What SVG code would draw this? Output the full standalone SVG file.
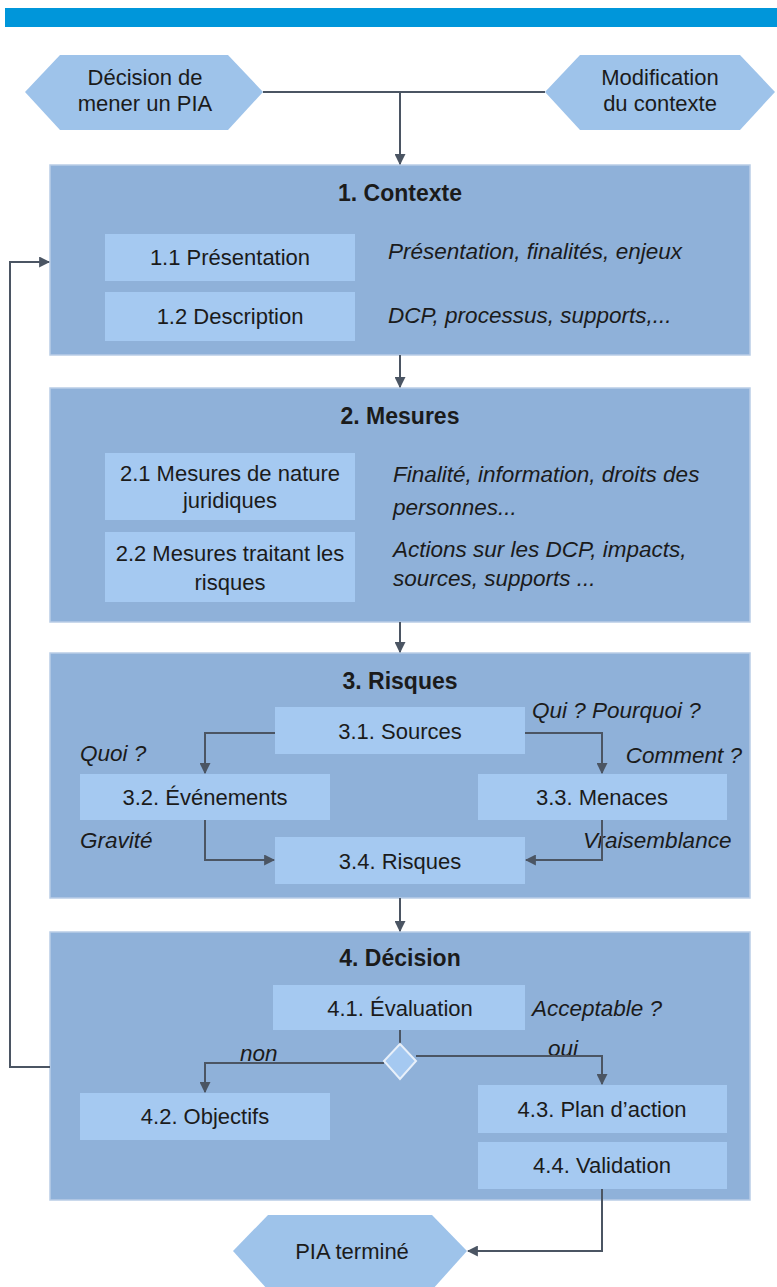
<svg xmlns="http://www.w3.org/2000/svg" width="777" height="1287" viewBox="0 0 777 1287">
<style>
text{font-family:"Liberation Sans",Arial,sans-serif;fill:#1b1b1b;font-size:22px}
.t{font-weight:bold;font-size:23px;text-anchor:middle}
.c{text-anchor:middle}
.i{font-style:italic;font-size:22.5px}
.outer{fill:#8fb1d9;stroke:#b9cde6;stroke-width:1.5}
.inner{fill:#a5c9f1}
.hex{fill:#9ec3ea}
.ln{fill:none;stroke:#4b5563;stroke-width:2}
</style>
<defs>
<marker id="ah" viewBox="0 0 10 10" refX="9" refY="5" markerWidth="11" markerHeight="11" orient="auto" markerUnits="userSpaceOnUse">
<path d="M0,0 L10,5 L0,10 z" fill="#4b5563"/>
</marker>
</defs>
<rect x="5" y="8" width="772" height="19" fill="#0096da"/>

<g id="start1">
<polygon class="hex" points="25,92 60,55 228,55 263,92 228,130 60,130"/>
<text class="c" x="145" y="85">Décision de</text>
<text class="c" x="145" y="111">mener un PIA</text>
</g>
<g id="start2">
<polygon class="hex" points="545,92 580,55 740,55 775,92 740,130 580,130"/>
<text class="c" x="660" y="85">Modification</text>
<text class="c" x="660" y="111">du contexte</text>
</g>

<g id="contexte">
<rect class="outer" x="50" y="165" width="700" height="190"/>
<text class="t" x="400" y="201">1. Contexte</text>
<rect class="inner" x="105" y="234" width="250" height="47"/>
<text class="c" x="230" y="265">1.1 Présentation</text>
<text class="i" x="388" y="259">Présentation, finalités, enjeux</text>
<rect class="inner" x="105" y="292" width="250" height="49"/>
<text class="c" x="230" y="324">1.2 Description</text>
<text class="i" x="388" y="323">DCP, processus, supports,...</text>
</g>

<g id="mesures">
<rect class="outer" x="50" y="388" width="700" height="234"/>
<text class="t" x="400" y="424">2. Mesures</text>
<rect class="inner" x="105" y="453" width="250" height="67"/>
<text class="c" x="230" y="481">2.1 Mesures de nature</text>
<text class="c" x="230" y="508">juridiques</text>
<text class="i" x="393" y="482">Finalité, information, droits des</text>
<text class="i" x="393" y="515">personnes...</text>
<rect class="inner" x="105" y="532" width="250" height="70"/>
<text class="c" x="230" y="561">2.2 Mesures traitant les</text>
<text class="c" x="230" y="590">risques</text>
<text class="i" x="393" y="557">Actions sur les DCP, impacts,</text>
<text class="i" x="393" y="586">sources, supports ...</text>
</g>

<g id="risques">
<rect class="outer" x="50" y="653" width="700" height="245"/>
<text class="t" x="400" y="689">3. Risques</text>
<rect class="inner" x="275" y="707" width="250" height="47"/>
<text class="c" x="400" y="739">3.1. Sources</text>
<rect class="inner" x="80" y="774" width="250" height="46"/>
<text class="c" x="205" y="805">3.2. Événements</text>
<rect class="inner" x="478" y="774" width="249" height="46"/>
<text class="c" x="602" y="805">3.3. Menaces</text>
<rect class="inner" x="275" y="837" width="250" height="47"/>
<text class="c" x="400" y="869">3.4. Risques</text>
<text class="i" x="532" y="718">Qui ? Pourquoi ?</text>
<text class="i" x="80" y="761">Quoi ?</text>
<text class="i" x="742" y="763" text-anchor="end">Comment ?</text>
<text class="i" x="80" y="848">Gravité</text>
<text class="i" x="583" y="848">Vraisemblance</text>
</g>

<g id="decision">
<rect class="outer" x="50" y="932" width="700" height="268"/>
<text class="t" x="400" y="966">4. Décision</text>
<rect class="inner" x="273" y="985" width="252" height="45"/>
<text class="c" x="400" y="1016">4.1. Évaluation</text>
<text class="i" x="532" y="1016">Acceptable ?</text>
<rect class="inner" x="80" y="1093" width="250" height="47"/>
<text class="c" x="205" y="1124">4.2. Objectifs</text>
<rect class="inner" x="478" y="1085" width="249" height="48"/>
<text class="c" x="602" y="1117">4.3. Plan d’action</text>
<rect class="inner" x="478" y="1142" width="249" height="47"/>
<text class="c" x="602" y="1173">4.4. Validation</text>
<text class="i" x="240" y="1061">non</text>
<text class="i" x="548" y="1056">oui</text>
</g>

<g id="end">
<polygon class="hex" points="233,1251 268,1215 432,1215 467,1251 432,1290 268,1290"/>
<text class="c" x="352" y="1259">PIA terminé</text>
</g>

<g id="connectors">
<path class="ln" d="M263,92 H545"/>
<path class="ln" d="M400,92 V164" marker-end="url(#ah)"/>
<path class="ln" d="M400,355 V387" marker-end="url(#ah)"/>
<path class="ln" d="M400,622 V652" marker-end="url(#ah)"/>
<path class="ln" d="M400,898 V931" marker-end="url(#ah)"/>
<path class="ln" d="M275,733 H205 V773" marker-end="url(#ah)"/>
<path class="ln" d="M525,733 H602 V773" marker-end="url(#ah)"/>
<path class="ln" d="M205,820 V860 H274" marker-end="url(#ah)"/>
<path class="ln" d="M602,820 V860 H526" marker-end="url(#ah)"/>
<path class="ln" d="M400,1030 V1044"/>
<path class="ln" d="M384,1063 H205 V1092" marker-end="url(#ah)"/>
<path class="ln" d="M416,1056 H602 V1084" marker-end="url(#ah)"/>
<polygon points="400,1044 416,1061 400,1079 384,1061" fill="#a5c9f1" stroke="#e8f0fa" stroke-width="2"/>
<path class="ln" d="M50,1067 H10 V262 H49" marker-end="url(#ah)"/>
<path class="ln" d="M602,1189 V1251 H468" marker-end="url(#ah)"/>
</g>
</svg>
